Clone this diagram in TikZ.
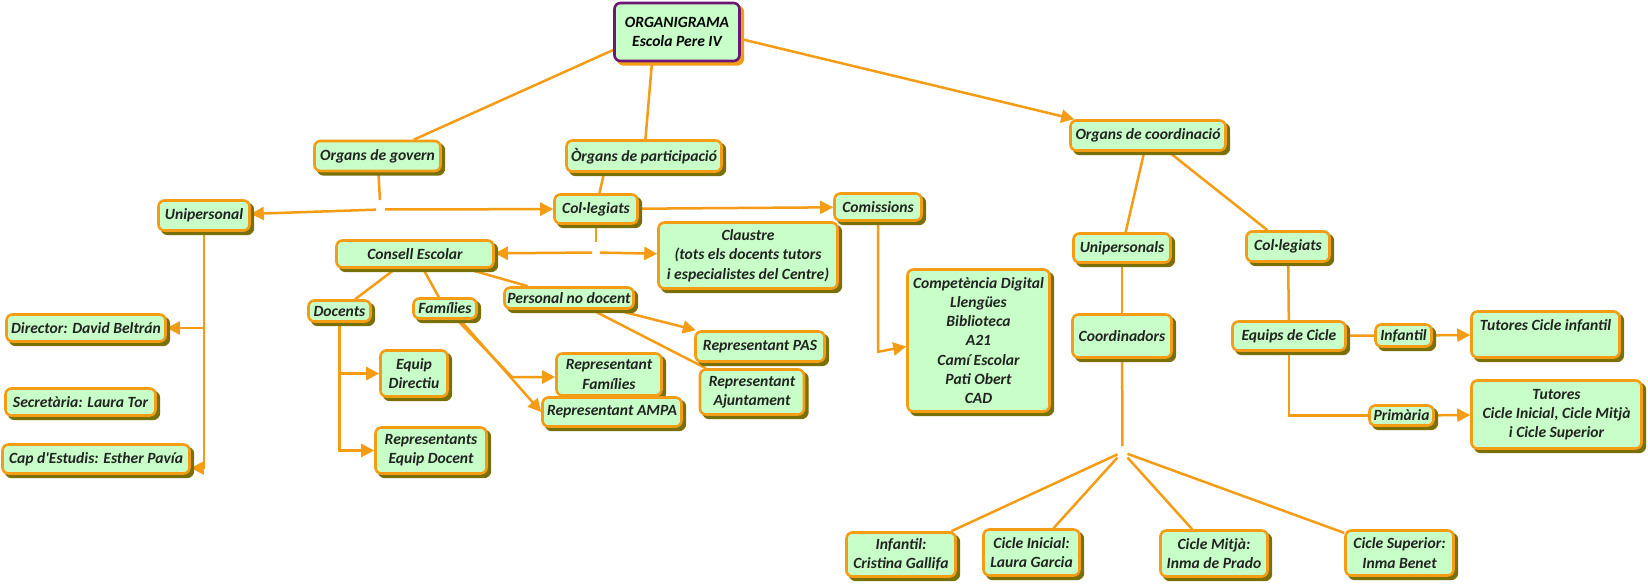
\documentclass[tikz,border=0pt]{standalone}
\usepackage{fontspec}
\setmainfont{Carlito}
\usetikzlibrary{arrows.meta,shadows,calc,backgrounds}
\definecolor{fillc}{RGB}{200,255,200}
\definecolor{borderc}{RGB}{243,156,20}
\definecolor{linec}{RGB}{243,156,20}
\definecolor{shadowc}{RGB}{122,112,8}
\definecolor{purplec}{RGB}{108,22,118}
\definecolor{txtc}{RGB}{34,34,34}
\begin{document}
\begin{tikzpicture}[x=1pt,y=-1pt,
  basebox/.style={draw=borderc, line width=2.6pt, fill=fillc, rounded corners=6pt, text=txtc,
    font=\fontsize{15.6}{19.3}\selectfont\bfseries\itshape, align=center, inner sep=0pt},
  box/.style={basebox, drop shadow={shadow xshift=3.4pt, shadow yshift=-3.4pt, fill=shadowc, draw=shadowc, opacity=1}},
  titlebox/.style={basebox, draw=purplec, text=black, drop shadow={shadow xshift=3.4pt, shadow yshift=-3.4pt, fill=borderc, draw=borderc, opacity=1}},
  sz/.style 2 args={minimum width=#1pt, minimum height=#2pt},
  junc/.style 2 args={inner sep=0pt, outer sep=0pt, minimum width=#1pt, minimum height=#2pt},
  con/.style={draw=linec, line width=2.5pt},
  arr/.style={con, -{Triangle[length=13pt,width=13pt]}},
]
\useasboundingbox (0,0) rectangle (1648,586);
% nodes
\node[titlebox, sz={125}{58}] (title) at (677,32) {ORGANIGRAMA\\Escola Pere IV};
\node[box, sz={126}{30}] (govern) at (377.5,156) {Organs de govern};
\node[box, sz={155}{31}] (particip) at (644,156) {Òrgans de participació};
\node[box, sz={155}{30}] (coord) at (1148,135.5) {Organs de coordinació};
\node[box, sz={91}{30}] (unipersonal) at (204,215.5) {Unipersonal};
\node[box, sz={83}{29}] (colmid) at (596,209) {Col·legiats};
\node[box, sz={87}{27}] (comissions) at (878,207) {Comissions};
\node[box, sz={179}{66}] (claustre) at (748,255.5) {Claustre\\(tots els docents tutors\\i especialistes del Centre)};
\node[box, sz={157}{27}] (consell) at (415,254) {Consell Escolar};
\node[box, sz={62}{21}] (docents) at (339.5,311) {Docents};
\node[box, sz={63}{20}] (families) at (445,308.5) {Famílies};
\node[box, sz={129}{21}] (personal) at (569,298) {Personal no docent};
\node[box, sz={67}{46}] (eqdir) at (414,373.5) {Equip\\Directiu};
\node[box, sz={111}{46}] (repdoc) at (431,450.5) {Representants\\Equip Docent};
\node[box, sz={105}{42}] (repfam) at (609,374.5) {Representant\\Famílies};
\node[box, sz={139}{29}] (ampa) at (612,412) {Representant AMPA};
\node[box, sz={129}{30}] (pas) at (760,346.5) {Representant PAS};
\node[box, sz={104}{45}] (ajunt) at (752,392) {Representant\\Ajuntament};
\node[box, sz={142}{142}] (comp) at (978.5,340.5) {Competència Digital\\Llengües\\Biblioteca\\A21\\Camí Escolar\\Pati Obert\\CAD};
\node[box, sz={159}{27}] (director) at (86,328) {Director: David Beltrán};
\node[box, sz={150}{27}] (secre) at (80.5,402) {Secretària: Laura Tor};
\node[box, sz={187}{29}] (cap) at (96,459) {Cap d\textquotesingle Estudis: Esther Pavía};
\node[box, sz={97}{29}] (unips) at (1122,248) {Unipersonals};
\node[box, sz={83}{30}] (colr) at (1288,246.5) {Col·legiats};
\node[box, sz={99}{43}] (coordin) at (1122,336) {Coordinadors};
\node[box, sz={113}{29}] (equips) at (1289,336) {Equips de Cicle};
\node[box, sz={56}{22}] (infs) at (1403.5,335.5) {Infantil};
\node[box, sz={148}{46}] (tutinf) at (1545.5,334.5) {Tutores Cicle infantil\\\phantom{X}};
\node[box, sz={64}{20}] (prim) at (1401.5,415.5) {Primària};
\node[box, sz={170}{68}] (tutprim) at (1556.5,414.5) {Tutores\\Cicle Inicial, Cicle Mitjà\\i Cicle Superior};
\node[box, sz={109}{44}] (binf) at (901,554.5) {Infantil:\\Cristina Gallifa};
\node[box, sz={96}{46}] (bini) at (1031.5,552.5) {Cicle Inicial:\\Laura Garcia};
\node[box, sz={107}{46}] (bmit) at (1214,553.5) {Cicle Mitjà:\\Inma de Prado};
\node[box, sz={108}{45}] (bsup) at (1399.5,553) {Cicle Superior:\\Inma Benet};
% junctions
\node[junc={9}{19}] (j1) at (380.5,209.5) {};
\node[junc={8}{21}] (j2) at (596,252.5) {};
\node[junc={10}{12}] (j3) at (1122.5,452) {};
\coordinate (fk) at (512,377);
% connectors
\begin{scope}[on background layer]
\fill[white] (0,0) rectangle (1648,586);
\draw[con] ($(title.west)+(0,18)$) -- (govern);
\draw[con] ($(title.south)+(-25,0)$) -- (particip);
\draw[arr] ($(title.east)+(0,7)$) -- ($(coord.north west)+(5,0)$);
\draw[con] (govern) -- (j1);
\draw[arr] (j1) -- (unipersonal);
\draw[arr] (j1) -- (colmid);
\draw[arr] (unipersonal.south) |- ($(cap.east)+(0,9)$);
\draw[arr] (unipersonal.south |- director.east) -- (director.east);
\draw[con] ($(particip.south)+(-40,0)$) -- (colmid);
\draw[arr] (colmid) -- (comissions);
\draw[con] (colmid) -- (j2);
\draw[arr] (j2) -- (consell);
\draw[arr] (j2) -- (claustre);
\draw[arr] (comissions.south) -- ++(0,130) -- ($(comp.west)+(0,6)$);
\draw[con] (consell) -- (docents);
\draw[con] (consell) -- (families);
\draw[con] (consell) -- (personal);
\draw[arr] (docents.south) |- (repdoc.west);
\draw[arr] (docents.south |- eqdir.west) -- (eqdir.west);
\draw[arr] ($(families.south)+(12,0)$) -- (fk) -- (fk -| repfam.west);
\draw[arr] ($(families.south)+(15,0)$) -- (ampa.west);
\draw[arr] (personal) -- (pas);
\draw[con] (personal) -- (ajunt);
\draw[con] (coord) -- (unips);
\draw[con] (coord) -- (colr);
\draw[con] (unips) -- (coordin);
\draw[con] (colr) -- (equips);
\draw[con] (coordin) -- (j3);
\draw[con] (j3) -- (binf);
\draw[con] (j3) -- (bini);
\draw[con] (j3) -- (bmit);
\draw[con] (j3) -- (bsup);
\draw[con] (equips) -- (infs);
\draw[arr] (infs) -- (tutinf);
\draw[con] (equips.south) |- (prim.west);
\draw[arr] (prim) -- (tutprim);
\end{scope}
\end{tikzpicture}
\end{document}
